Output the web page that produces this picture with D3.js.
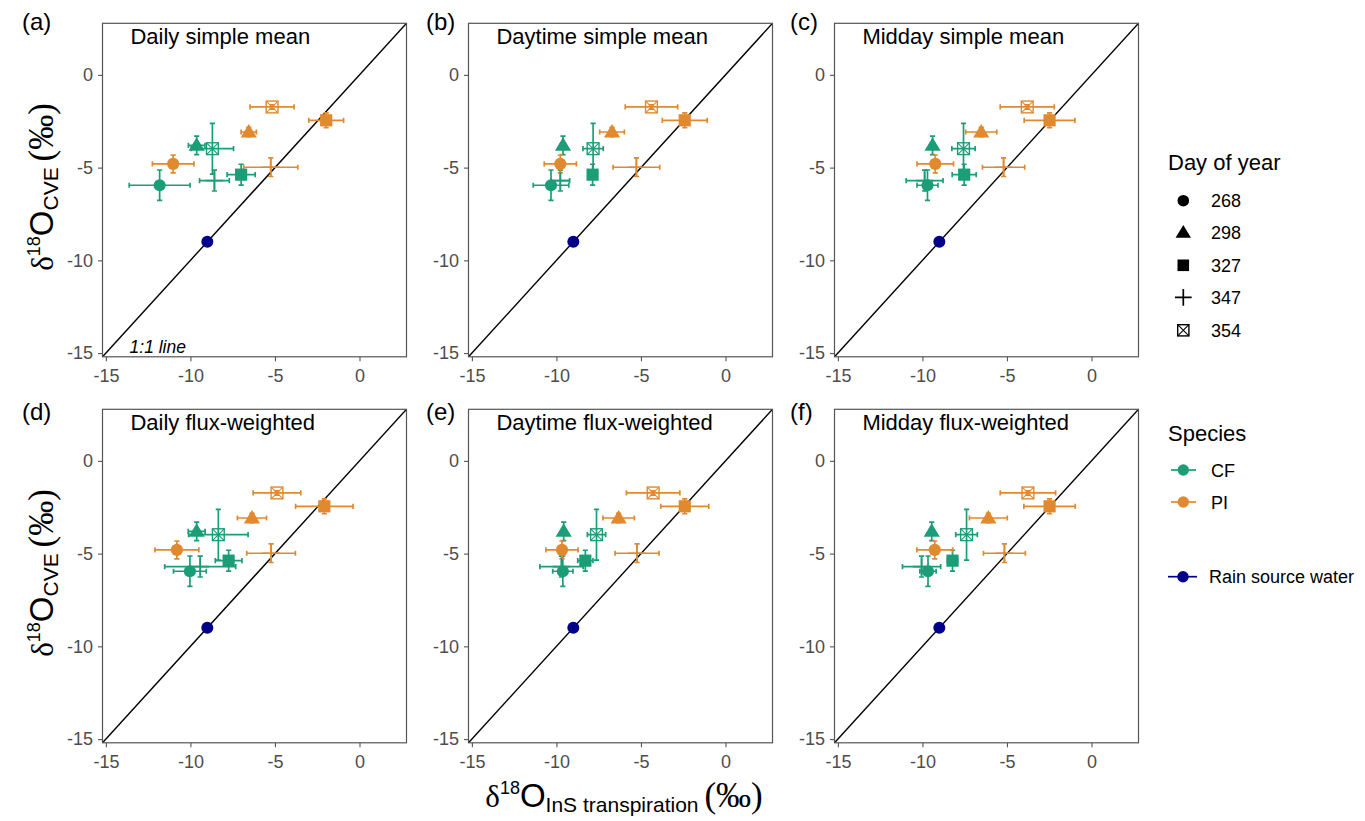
<!DOCTYPE html>
<html><head><meta charset="utf-8">
<script src="https://cdn.jsdelivr.net/npm/d3@7"></script>
<style>
body{margin:0;background:#fff;}
text{font-family:"Liberation Sans",Arial,sans-serif;}
</style>
</head><body>
<svg id="chart" width="1365" height="821"></svg>
<script>
// ---------------- DATA ----------------
const panelTitles = ["Daily simple mean","Daytime simple mean","Midday simple mean",
                     "Daily flux-weighted","Daytime flux-weighted","Midday flux-weighted"];
const panelLetters = ["(a)","(b)","(c)","(d)","(e)","(f)"];
const days = [268, 298, 327, 347, 354];
const speciesNames = ["CF", "PI"];
const tickValues = [-15, -10, -5, 0];
const axisDomain = [-15.2, 2.78];
const rainPoint = [-9.0, -9.0];
const oneToOne = [-15.2, 2.78];

// delta18O CVE (y) per day, same in all panels
const cfY    = [-5.95, -3.80, -5.38, -5.70, -3.98];
const cfYErr = [0.82, 0.50, 0.56, 0.56, 1.37];
const piY    = [-4.80, -3.08, -2.45, -4.98, -1.73];
const piYErr = [0.48, 0.25, 0.40, 0.50, 0.12];

// delta18O InS transpiration (x) per panel (a..f), per day
const cfX = [
  [-11.82, -9.63, -7.00, -8.58, -8.70],
  [-10.32, -9.61, -7.86, -9.77, -7.83],
  [-9.70, -9.40, -7.53, -9.87, -7.57],
  [-10.03, -9.63, -7.74, -9.42, -8.35],
  [-9.62, -9.57, -8.29, -9.70, -7.63],
  [-9.67, -9.45, -8.22, -10.05, -7.39]
];
const cfXErr = [
  [1.80, 0.49, 0.83, 0.88, 1.25],
  [1.05, 0.15, 0.25, 0.55, 0.60],
  [0.62, 0.12, 0.71, 1.09, 0.69],
  [0.97, 0.50, 0.79, 2.10, 1.76],
  [0.60, 0.12, 0.45, 1.28, 0.54],
  [0.48, 0.12, 0.30, 1.13, 0.64]
];
const piX = [
  [-11.02, -6.55, -1.97, -5.25, -5.17],
  [-9.77, -6.71, -2.41, -5.27, -4.38],
  [-9.24, -6.52, -2.48, -5.20, -3.80],
  [-10.80, -6.36, -2.08, -5.23, -4.88],
  [-9.67, -6.32, -2.41, -5.23, -4.28],
  [-9.27, -6.10, -2.48, -5.15, -3.76]
];
const piXErr = [
  [1.23, 0.45, 1.03, 1.60, 1.30],
  [0.95, 0.73, 1.33, 1.38, 1.55],
  [1.08, 0.92, 1.50, 1.25, 1.60],
  [1.30, 0.86, 1.70, 1.44, 1.41],
  [0.95, 0.93, 1.42, 1.30, 1.58],
  [1.06, 1.12, 1.52, 1.24, 1.64]
];

// ---------------- STYLE / LAYOUT ----------------
const speciesColors = ["#1B9E77", "#E0892F"];
const rainColor = "#00008B";
const frameColor = "#555555";
const tickTextColor = "#4D4D4D";
const colLeft = [102.5, 468.5, 834.5];
const rowTop = [23.3, 409.3];
const letterX = [22, 426, 790];
const letterBaseline = [30, 420];
const pw = 304, ph = 333.5;

const series = [
  {name: speciesNames[0], color: speciesColors[0], x: cfX, xErr: cfXErr, y: cfY, yErr: cfYErr},
  {name: speciesNames[1], color: speciesColors[1], x: piX, xErr: piXErr, y: piY, yErr: piYErr}
];

const svg = d3.select("#chart");
svg.append("rect").attr("width", 1365).attr("height", 821).attr("fill", "#fff");
const defs = svg.append("defs");

function drawMarker(sel, dayIndex, cx, cy, color, k) {
  if (dayIndex === 0) {
    sel.append("circle").attr("cx", cx).attr("cy", cy).attr("r", 6.1 * k).attr("fill", color);
  } else if (dayIndex === 1) {
    const h = 8.1 * k;
    sel.append("path")
      .attr("d", `M${cx},${cy - h}L${cx + h},${cy + 5.4 * k}L${cx - h},${cy + 5.4 * k}Z`)
      .attr("fill", color);
  } else if (dayIndex === 2) {
    const s = 6.1 * k;
    sel.append("rect").attr("x", cx - s).attr("y", cy - s).attr("width", 2 * s).attr("height", 2 * s).attr("fill", color);
  } else if (dayIndex === 3) {
    const a = 8.8 * k;
    sel.append("path").attr("d", `M${cx - a},${cy}H${cx + a}M${cx},${cy - a}V${cy + a}`)
      .attr("stroke", color).attr("stroke-width", 1.7).attr("fill", "none");
  } else {
    const s = 5.9 * k;
    sel.append("rect").attr("x", cx - s).attr("y", cy - s).attr("width", 2 * s).attr("height", 2 * s)
      .attr("fill", "none").attr("stroke", color).attr("stroke-width", 1.4);
    sel.append("path").attr("d", `M${cx - s},${cy - s}L${cx + s},${cy + s}M${cx + s},${cy - s}L${cx - s},${cy + s}`)
      .attr("stroke", color).attr("stroke-width", 1.1).attr("fill", "none");
  }
}

panelTitles.forEach((title, i) => {
  const col = i % 3, row = Math.floor(i / 3);
  const x0 = colLeft[col], y0 = rowTop[row];
  const xs = d3.scaleLinear().domain(axisDomain).range([0, pw]);
  const ys = d3.scaleLinear().domain(axisDomain).range([ph, 0]);
  const g = svg.append("g").attr("transform", `translate(${x0},${y0})`);

  defs.append("clipPath").attr("id", "clip" + i)
    .append("rect").attr("width", pw).attr("height", ph);
  const inner = g.append("g").attr("clip-path", `url(#clip${i})`);

  // 1:1 line
  inner.append("line")
    .attr("x1", xs(oneToOne[0])).attr("y1", ys(oneToOne[0]))
    .attr("x2", xs(oneToOne[1])).attr("y2", ys(oneToOne[1]))
    .attr("stroke", "#000").attr("stroke-width", 1.4);

  // error bars
  const cap = 2.6;
  series.forEach(s => {
    days.forEach((d, j) => {
      const cx = xs(s.x[i][j]), cy = ys(s.y[j]);
      const xl = xs(s.x[i][j] - s.xErr[i][j]), xr = xs(s.x[i][j] + s.xErr[i][j]);
      const yt = ys(s.y[j] + s.yErr[j]), yb = ys(s.y[j] - s.yErr[j]);
      inner.append("path")
        .attr("d", `M${xl},${cy}H${xr}M${xl},${cy - cap}V${cy + cap}M${xr},${cy - cap}V${cy + cap}` +
                   `M${cx},${yt}V${yb}M${cx - cap},${yt}H${cx + cap}M${cx - cap},${yb}H${cx + cap}`)
        .attr("stroke", s.color).attr("stroke-width", 1.7).attr("fill", "none");
    });
  });
  // points
  series.forEach(s => {
    days.forEach((d, j) => {
      drawMarker(inner, j, xs(s.x[i][j]), ys(s.y[j]), s.color, 1);
    });
  });
  // rain source water
  inner.append("circle").attr("cx", xs(rainPoint[0])).attr("cy", ys(rainPoint[1]))
    .attr("r", 6.0).attr("fill", rainColor);

  // title
  g.append("text").attr("x", xs(-13.55)).attr("y", 21)
    .attr("font-size", 22).attr("fill", "#000").text(title);
  if (i === 0) {
    g.append("text").attr("x", xs(-13.6)).attr("y", ph - 3.5)
      .attr("font-size", 17.5).attr("font-style", "italic").attr("fill", "#000").text("1:1 line");
  }

  // axes
  const ax = d3.axisBottom(xs).tickValues(tickValues).tickFormat(d => String(d))
    .tickSize(4.5).tickSizeOuter(0).tickPadding(8);
  const ay = d3.axisLeft(ys).tickValues(tickValues).tickFormat(d => String(d))
    .tickSize(4.5).tickSizeOuter(0).tickPadding(5);
  const gx = g.append("g").attr("transform", `translate(0,${ph})`).call(ax);
  const gy = g.append("g").call(ay);
  [gx, gy].forEach(a => {
    a.select(".domain").remove();
    a.selectAll(".tick line").attr("stroke", frameColor).attr("stroke-width", 1.1);
    a.selectAll(".tick text").attr("fill", tickTextColor).attr("font-size", 18)
      .attr("font-family", "'Liberation Sans', Arial, sans-serif");
  });

  // frame
  g.append("rect").attr("width", pw).attr("height", ph)
    .attr("fill", "none").attr("stroke", frameColor).attr("stroke-width", 1.2);

  // panel letter
  svg.append("text").attr("x", letterX[col]).attr("y", letterBaseline[row])
    .attr("font-size", 24).attr("fill", "#000").text(panelLetters[i]);
});

// ---------------- AXIS TITLES ----------------
function axisTitle(sel, subscript) {
  sel.append("tspan").attr("font-family", "'Liberation Serif','Times New Roman',serif")
    .attr("font-size", 31).text("δ");
  sel.append("tspan").attr("font-size", 18).attr("dy", -13).text("18");
  sel.append("tspan").attr("font-size", 33).attr("dy", 13).text("O");
  sel.append("tspan").attr("font-size", 21).attr("dy", 5).text(subscript);
  sel.append("tspan").attr("font-size", 21).attr("dy", -5).text(" ");
  sel.append("tspan").attr("font-family", "'Liberation Serif','Times New Roman',serif")
    .attr("font-size", 35).text("(‰)");
}
const xt = svg.append("text").attr("x", 624).attr("y", 807).attr("text-anchor", "middle").attr("fill", "#000");
axisTitle(xt, "InS transpiration");
[187, 573].forEach(cy => {
  const yt = svg.append("text").attr("transform", `translate(52.5,${cy}) rotate(-90)`)
    .attr("text-anchor", "middle").attr("fill", "#000");
  axisTitle(yt, "CVE");
});

// ---------------- LEGEND ----------------
const lg = svg.append("g");
lg.append("text").attr("x", 1168).attr("y", 170).attr("font-size", 22).attr("fill", "#000").text("Day of year");
const dayRowY = [200.7, 232.7, 265.3, 297.3, 330.3];
days.forEach((d, j) => {
  drawMarker(lg, j, 1183.3, dayRowY[j], "#000", 0.95);
  lg.append("text").attr("x", 1211).attr("y", dayRowY[j] + 6.5).attr("font-size", 18).attr("fill", "#000").text(d);
});
lg.append("text").attr("x", 1168).attr("y", 441).attr("font-size", 22).attr("fill", "#000").text("Species");
const spRowY = [470, 502];
speciesNames.forEach((s, k) => {
  lg.append("line").attr("x1", 1171).attr("x2", 1196).attr("y1", spRowY[k]).attr("y2", spRowY[k])
    .attr("stroke", speciesColors[k]).attr("stroke-width", 1.7);
  lg.append("circle").attr("cx", 1183.3).attr("cy", spRowY[k]).attr("r", 5.7).attr("fill", speciesColors[k]);
  lg.append("text").attr("x", 1211).attr("y", spRowY[k] + 6.5).attr("font-size", 18).attr("fill", "#000").text(s);
});
lg.append("line").attr("x1", 1168).attr("x2", 1197).attr("y1", 576.7).attr("y2", 576.7)
  .attr("stroke", rainColor).attr("stroke-width", 1.7);
lg.append("circle").attr("cx", 1183).attr("cy", 576.7).attr("r", 5.7).attr("fill", rainColor);
lg.append("text").attr("x", 1209).attr("y", 583.2).attr("font-size", 18).attr("fill", "#000").text("Rain source water");
</script>
</body></html>
